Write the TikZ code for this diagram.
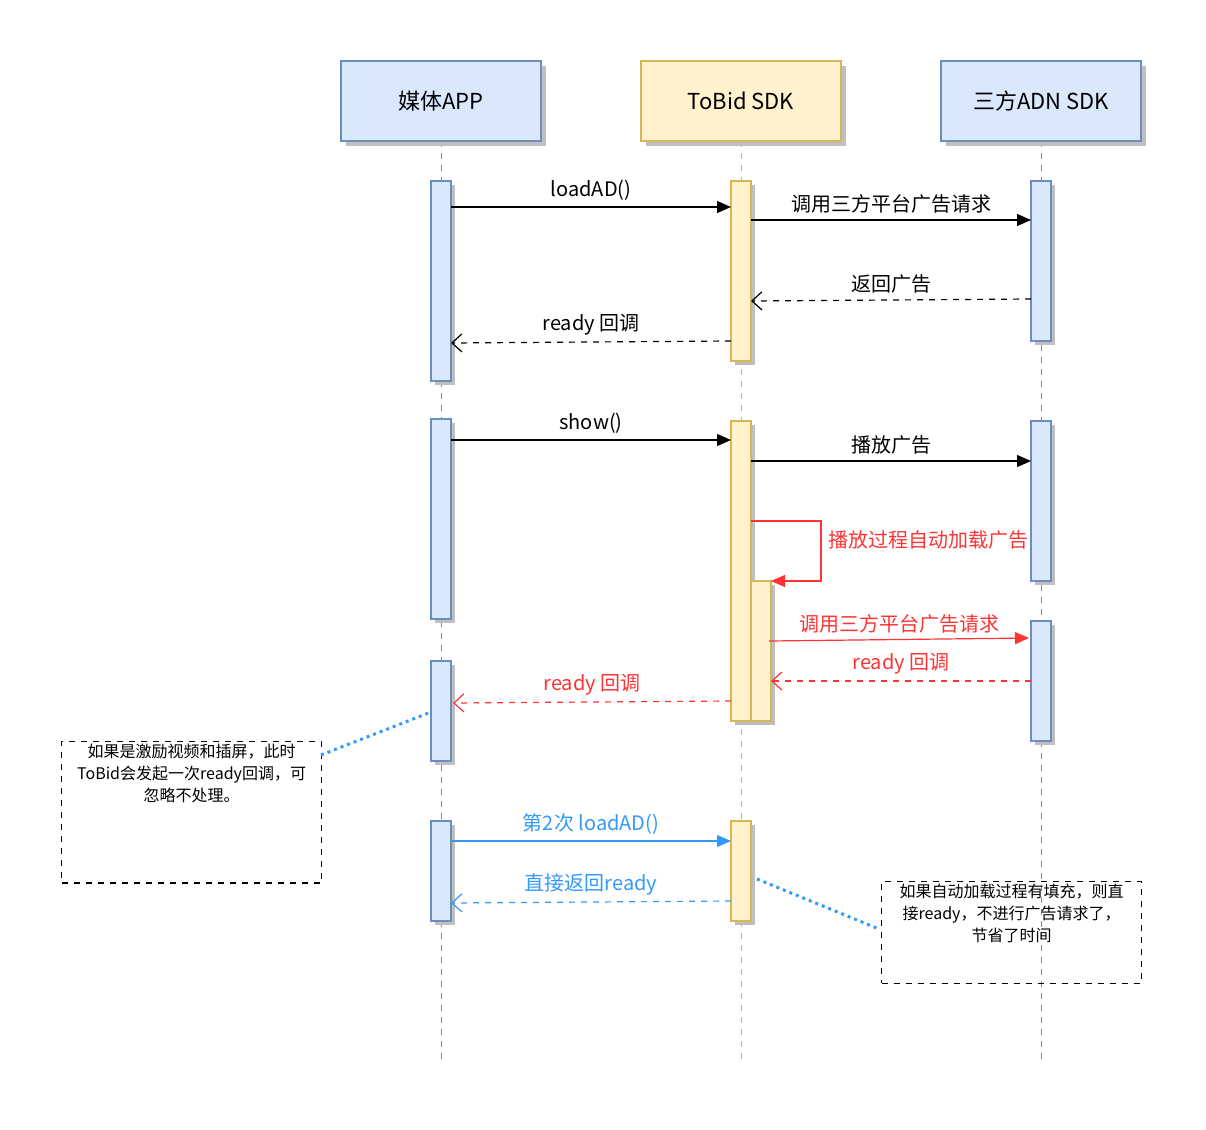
\documentclass[tikz,border=0pt]{standalone}
\usepackage{fontspec}
\setmainfont{Noto Sans CJK SC}
\usetikzlibrary{arrows.meta,shadows}
\definecolor{bluefill}{HTML}{DAE8FC}
\definecolor{bluedraw}{HTML}{6C8EBF}
\definecolor{yelfill}{HTML}{FFF2CC}
\definecolor{yeldraw}{HTML}{D6B656}
\definecolor{msgred}{HTML}{FF3333}
\definecolor{msgblue}{HTML}{3399FF}
\tikzset{every picture/.style={line width=0.6pt}}
\tikzset{
  head/.style={draw, minimum width=100pt, minimum height=40pt, inner sep=0pt,
    font=\fontsize{11}{13}\selectfont, drop shadow={shadow xshift=2.5pt, shadow yshift=-2.5pt, fill=black!25, opacity=1}},
  act/.style={draw, drop shadow={shadow xshift=2pt, shadow yshift=-2pt, fill=black!25, opacity=1}},
  life/.style={dashed, line width=0.5pt},
  call/.style={-{Triangle[length=7pt,width=6pt]}},
  back/.style={dashed, -{Straight Barb[length=5pt,width=9pt]}},
  lbl/.style={font=\fontsize{10}{12}\selectfont, inner sep=1pt},
  note/.style={draw, dashed, font=\fontsize{8}{11}\selectfont, align=center, inner sep=1pt},
  link/.style={msgblue, dotted, line width=1.5pt}
}
\begin{document}
\begin{tikzpicture}[x=0.5pt,y=-0.5pt]
\useasboundingbox (0,0) rectangle (1206,1130);

% lifelines
\draw[life, bluedraw] (441,141) -- (441,1062);
\draw[life, yeldraw] (741,141) -- (741,1062);
\draw[life, bluedraw] (1041,141) -- (1041,1062);

% heads
\node[head, fill=bluefill, draw=bluedraw] (app) at (441,101) {媒体APP};
\node[head, fill=yelfill, draw=yeldraw] (sdk) at (741,101) {ToBid SDK};
\node[head, fill=bluefill, draw=bluedraw] (adn) at (1041,101) {三方ADN SDK};

% activations
\foreach \t/\b in {181/381, 419/619, 661/761, 821/921}
  \draw[act, fill=bluefill, draw=bluedraw] (431,\t) rectangle (451,\b);
\foreach \t/\b in {181/361, 421/721, 821/921}
  \draw[act, fill=yelfill, draw=yeldraw] (731,\t) rectangle (751,\b);
\draw[act, fill=yelfill, draw=yeldraw] (751,581) rectangle (771,721);
\foreach \t/\b in {181/341, 421/581, 621/741}
  \draw[act, fill=bluefill, draw=bluedraw] (1031,\t) rectangle (1051,\b);

% messages
\draw[call] (451,207) -- node[lbl, above=2pt] {loadAD()} (731,207);
\draw[call] (751,220) -- node[lbl, above=2pt] {调用三方平台广告请求} (1031,220);
\draw[back] (1031,299) -- node[lbl, above=2pt] {返回广告} (751,301);
\draw[back] (731,341) -- node[lbl, above=2pt] {ready 回调} (451,343);
\draw[call] (451,440) -- node[lbl, above=2pt] {show()} (731,440);
\draw[call] (751,461) -- node[lbl, above=2pt] {播放广告} (1031,461);
\draw[call, msgred] (751,521) -- (821,521) -- (821,581) -- (771,581);
\node[lbl, msgred, anchor=west] (loop) at (826,540) {播放过程自动加载广告};
\draw[call, msgred] (769,641) -- node[lbl, above=2pt] {调用三方平台广告请求} (1029,638);
\draw[back, msgred] (1031,681) -- node[lbl, above=2pt] {ready 回调} (771,681);
\draw[back, msgred] (731,701) -- node[lbl, above=2pt] {ready 回调} (453,703);
\draw[call, msgblue] (451,841) -- node[lbl, above=2pt] {第2次 loadAD()} (731,841);
\draw[back, msgblue] (731,901) -- node[lbl, above=2pt] {直接返回ready} (451,903);

% notes
\node[note, minimum width=130pt, minimum height=70pt, anchor=north west, text depth=40pt] (n1) at (61,741)
  {如果是激励视频和插屏，此时\\ToBid会发起一次ready回调，可\\忽略不处理。};
\node[note, minimum width=130pt, minimum height=50pt, anchor=north west, text depth=20pt] (n2) at (881,881)
  {如果自动加载过程有填充，则直\\接ready，不进行广告请求了，\\节省了时间};
\draw[link] (321,755) -- (431,712);
\draw[link] (757,879) -- (879,929);
\end{tikzpicture}
\end{document}
